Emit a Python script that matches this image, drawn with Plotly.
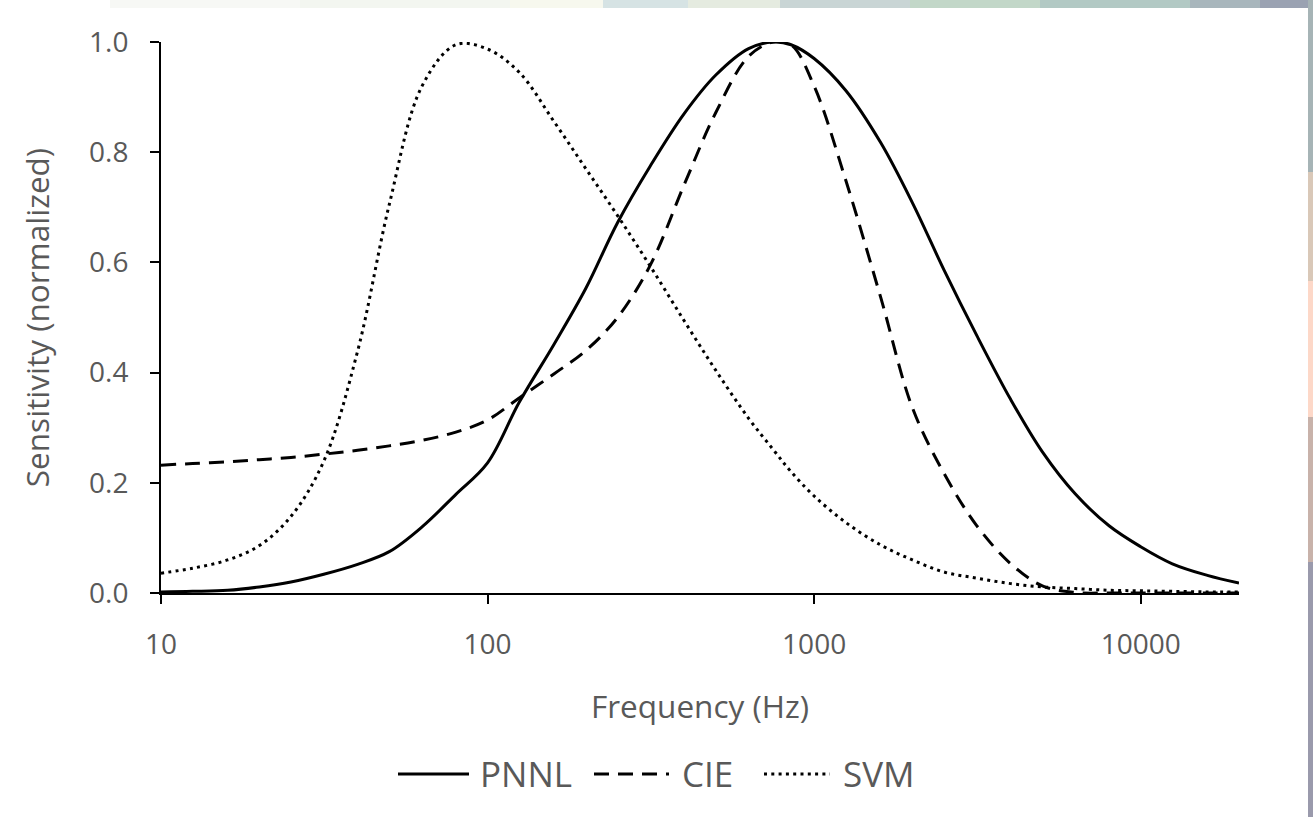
import plotly.graph_objects as go

# ---- data ----
freq = [10, 12.5, 16, 20, 25, 31.5, 40, 50, 63, 80, 100, 125, 160, 200, 250, 315, 400, 500, 630, 750, 850,
        1000, 1250, 1600, 2000, 2500, 3150, 4000, 5000, 6300, 8000, 10000, 12500, 16000, 20000]

pnnl_vals = [0.002, 0.003, 0.005, 0.011, 0.02, 0.034, 0.052, 0.075, 0.12, 0.179, 0.236, 0.346, 0.452, 0.553,
             0.672, 0.775, 0.87, 0.94, 0.988, 1.0, 0.995, 0.97, 0.912, 0.817, 0.708, 0.586, 0.467, 0.351,
             0.256, 0.18, 0.122, 0.084, 0.053, 0.032, 0.018]

cie_vals = [0.232, 0.235, 0.238, 0.242, 0.246, 0.252, 0.259, 0.267, 0.277, 0.292, 0.314, 0.354, 0.398, 0.44,
            0.50, 0.595, 0.741, 0.872, 0.974, 1.0, 0.995, 0.92, 0.749, 0.536, 0.336, 0.217, 0.122, 0.053,
            0.013, 0.001, 0.0, 0.0, 0.0, 0.0, 0.0]

svm_vals = [0.036, 0.045, 0.06, 0.086, 0.139, 0.239, 0.439, 0.705, 0.92, 0.995, 0.987, 0.945, 0.855, 0.77,
            0.685, 0.593, 0.494, 0.404, 0.317, 0.26, 0.22, 0.176, 0.128, 0.087, 0.06, 0.038, 0.027, 0.017,
            0.011, 0.008, 0.005, 0.004, 0.003, 0.002, 0.002]

series_names = ["PNNL", "CIE", "SVM"]
series_dash = ["solid", "15px,9px", "3px,4.3px"]
series_width = [3, 3, 3]

x_tickvals = [10, 100, 1000, 10000]
x_ticktext = ["10", "100", "1000", "10000"]
y_tickvals = [0.0, 0.2, 0.4, 0.6, 0.8, 1.0]
y_ticktext = ["0.0", "0.2", "0.4", "0.6", "0.8", "1.0"]

FONT = "'Open Sans', Lato, sans-serif"
GREY = "#595959"

fig = go.Figure()
for name, fy, dash, w in zip(series_names, [pnnl_vals, cie_vals, svm_vals], series_dash, series_width):
    fig.add_trace(go.Scatter(x=freq, y=fy, name=name, mode="lines", showlegend=False,
                             line=dict(color="black", width=w, dash=dash, shape="spline", smoothing=1.0)))

# plot area geometry (pixels)
L, R, T, B = 161, 1239, 42, 593
W, H = 1313, 817
pw, ph = R - L, B - T


def px(x):
    return (x - L) / pw


def py(y):
    return (B - y) / ph


shapes = []
# decorative blurred photo edge: top strip and right strip
top_cols = [(0, 110, "#ffffff"), (110, 300, "#f7f8f5"), (300, 510, "#f3f6f0"), (510, 603, "#f7f8ee"),
            (603, 688, "#d6e3e4"), (688, 780, "#e5ebe0"), (780, 910, "#c9d5d5"), (910, 1040, "#c2d7c8"),
            (1040, 1190, "#b2c9c4"), (1190, 1260, "#a8b6bc"), (1260, 1313, "#9aa2b2")]
for x0, x1, c in top_cols:
    shapes.append(dict(type="rect", xref="paper", yref="paper", x0=px(x0), x1=px(x1), y0=py(8), y1=py(0),
                       fillcolor=c, line=dict(width=0), layer="below"))
right_cols = [(0, 172, "#a6b4b6"), (172, 281, "#d9c8b8"), (281, 417, "#fdd8c8"), (417, 562, "#c8b2aa"),
              (562, 817, "#9a9aac")]
for y0, y1, c in right_cols:
    shapes.append(dict(type="rect", xref="paper", yref="paper", x0=px(1308), x1=px(1313), y0=py(y1), y1=py(y0),
                       fillcolor=c, line=dict(width=0), layer="below"))

# legend (Excel-style long line samples)
legend_y = 774
legend_items = [(398, 469, 478), (594, 669, 680), (764, 830, 841)]
annotations = []
for (lx0, lx1, tx), name, dash, w in zip(legend_items, series_names, series_dash, series_width):
    shapes.append(dict(type="line", xref="paper", yref="paper", x0=px(lx0), x1=px(lx1),
                       y0=py(legend_y), y1=py(legend_y), line=dict(color="black", width=w, dash=dash)))
    annotations.append(dict(xref="paper", yref="paper", x=px(tx), y=py(legend_y - 1), text=name,
                            showarrow=False, xanchor="left", yanchor="middle",
                            font=dict(size=35, color=GREY, family=FONT)))

fig.update_layout(
    width=W, height=H,
    margin=dict(l=L, r=W - R, t=T, b=H - B, pad=0),
    paper_bgcolor="white", plot_bgcolor="white",
    font=dict(family=FONT, color=GREY, size=28),
    shapes=shapes,
    annotations=annotations,
    showlegend=False,
    xaxis=dict(type="log", range=[1, 4.30103], tickvals=x_tickvals, ticktext=x_ticktext,
               showline=True, linecolor="black", linewidth=2, ticks="outside", ticklen=9,
               tickwidth=2, tickcolor="black", showgrid=False, zeroline=False, ticklabelstandoff=16,
               tickfont=dict(size=28, color=GREY, family=FONT),
               title=dict(text="Frequency (Hz)", font=dict(size=31.5, color=GREY, family=FONT), standoff=35)),
    yaxis=dict(range=[0, 1.0], tickvals=y_tickvals, ticktext=y_ticktext,
               showline=True, linecolor="black", linewidth=2, ticks="outside", ticklen=9,
               tickwidth=2, tickcolor="black", showgrid=False, zeroline=False, ticklabelstandoff=16,
               tickfont=dict(size=28, color=GREY, family=FONT),
               title=dict(text="Sensitivity (normalized)", font=dict(size=31.5, color=GREY, family=FONT),
                          standoff=30)),
)

fig.write_html("out.html")
